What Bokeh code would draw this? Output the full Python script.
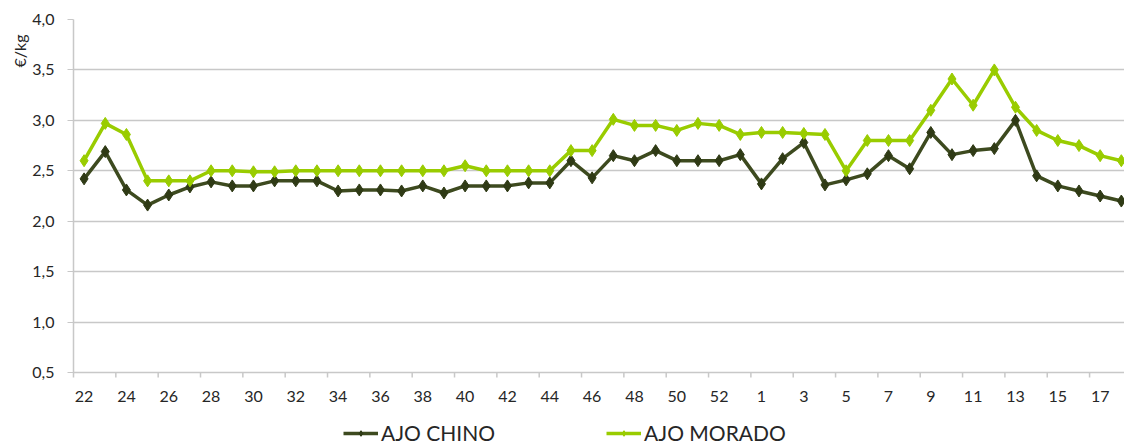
from bokeh.plotting import figure
from bokeh.models import (FixedTicker, Range1d, Legend, LegendItem,
                          Title, ColumnDataSource)
from bokeh.core.properties import value
from bokeh.embed import file_html
from bokeh.resources import INLINE

weeks = [str(w) for w in range(22, 54)] + [str(w) for w in range(1, 19)]
ajo_chino = [2.42, 2.69, 2.31, 2.16, 2.26, 2.34, 2.39, 2.35, 2.35, 2.40,
             2.40, 2.40, 2.30, 2.31, 2.31, 2.30, 2.35, 2.28, 2.35, 2.35,
             2.35, 2.38, 2.38, 2.60, 2.43, 2.65, 2.60, 2.70, 2.60, 2.60,
             2.60, 2.66, 2.37, 2.62, 2.78, 2.36, 2.41, 2.47, 2.65, 2.52,
             2.88, 2.66, 2.70, 2.72, 3.00, 2.45, 2.35, 2.30, 2.25, 2.20]
ajo_morado = [2.60, 2.97, 2.86, 2.40, 2.40, 2.40, 2.50, 2.50, 2.49, 2.49,
              2.50, 2.50, 2.50, 2.50, 2.50, 2.50, 2.50, 2.50, 2.55, 2.50,
              2.50, 2.50, 2.50, 2.70, 2.70, 3.01, 2.95, 2.95, 2.90, 2.97,
              2.95, 2.86, 2.88, 2.88, 2.87, 2.86, 2.50, 2.80, 2.80, 2.80,
              3.10, 3.41, 3.15, 3.50, 3.13, 2.90, 2.80, 2.75, 2.65, 2.60]
y_ticks = [0.5, 1.0, 1.5, 2.0, 2.5, 3.0, 3.5, 4.0]

FONT = "Lato"
DARK = "#3d4a1f"
DARK_M = "#2f3a15"
LIGHT = "#99cc00"
GRID = "#c8c8c8"
TXT = "#262626"

# geometry: value axis 0.5..4.0 over 353 px; frame extends below it for
# the category labels and the legend
Y_MIN, Y_MAX = y_ticks[0], y_ticks[-1]
PLOT_H = 353
PX = PLOT_H / (Y_MAX - Y_MIN)          # pixels per unit
EXTRA = 74                              # px below the value axis
y_start = Y_MIN - EXTRA / PX

idx = list(range(len(weeks)))
src = ColumnDataSource(dict(x=idx, chino=ajo_chino, morado=ajo_morado))

p = figure(frame_width=1051, frame_height=PLOT_H + EXTRA, output_backend="svg",
           toolbar_location=None, tools="", x_axis_location=None,
           x_range=Range1d(-0.5, 49.15), y_range=Range1d(y_start, Y_MAX),
           min_border_left=73, min_border_right=0, min_border_top=19,
           min_border_bottom=0)
p.outline_line_color = None
p.background_fill_color = "white"
p.border_fill_color = "white"

# y axis
ya = p.yaxis[0]
ya.ticker = FixedTicker(ticks=y_ticks)
ya.bounds = (Y_MIN - 5 / PX, Y_MAX)
ya.major_label_overrides = {t: f"{t:.1f}".replace(".", ",") for t in y_ticks}
ya.major_tick_out = 6
ya.major_tick_in = 0
ya.minor_tick_line_color = None
ya.axis_line_color = GRID
ya.axis_line_width = 1.5
ya.major_tick_line_color = GRID
ya.major_label_text_font = FONT
ya.major_label_text_font_size = "16px"
ya.major_label_text_color = TXT
ya.major_label_standoff = 13

p.ygrid.ticker = FixedTicker(ticks=y_ticks)
p.ygrid.grid_line_color = GRID
p.ygrid.grid_line_width = 1.5
p.xgrid.grid_line_color = None

# category axis: tick marks between pairs of weeks, labels every 2 weeks
bounds_x = [-0.5 + 2 * k for k in range(1, 26)]
p.segment(x0=bounds_x, y0=[Y_MIN] * len(bounds_x), x1=bounds_x,
          y1=[Y_MIN - 5 / PX] * len(bounds_x), line_color=GRID, line_width=1.5)
lab_ticks = list(range(0, len(weeks), 2))
p.text(x=lab_ticks, y=[Y_MIN] * len(lab_ticks), text=[weeks[i] for i in lab_ticks],
       y_offset=24, text_align="center", text_baseline="middle",
       text_font=value(FONT), text_font_size=value("16px"), text_color=TXT)

# y axis title at the top
p.add_layout(Title(text="€/kg", align="right", offset=15, text_font=FONT,
                   text_font_size="16px", text_font_style="normal",
                   text_color=TXT, standoff=2), "left")

l1 = p.line("x", "chino", source=src, line_color=DARK, line_width=3.5)
m1 = p.scatter("x", "chino", source=src, marker="diamond", size=12,
               fill_color=DARK_M, line_color=DARK_M)
l2 = p.line("x", "morado", source=src, line_color=LIGHT, line_width=3.5)
m2 = p.scatter("x", "morado", source=src, marker="diamond", size=12,
               fill_color=LIGHT, line_color=LIGHT)

legend = Legend(items=[LegendItem(label="AJO CHINO", renderers=[l1, m1]),
                       LegendItem(label="AJO MORADO", renderers=[l2, m2])],
                orientation="horizontal", location=(270, 1), glyph_width=35,
                glyph_height=14, label_standoff=3, spacing=111, padding=0,
                margin=0, border_line_color=None, background_fill_alpha=0,
                label_text_font=FONT, label_text_font_size="21px",
                label_text_color=TXT)
p.add_layout(legend, "center")

open("out.html", "w", encoding="utf-8").write(file_html(p, INLINE))
